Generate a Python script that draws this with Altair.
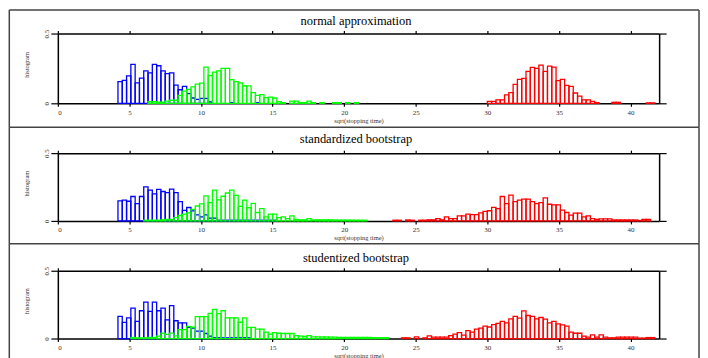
import altair as alt
import pandas as pd

BIN_W = 0.3
X_TICKS = [0, 5, 10, 15, 20, 25, 30, 35, 40]
Y_TICKS = [0, 0.5]
SERIES = ["blue", "green", "red"]
SERIES_COLORS = ["#0000ff", "#00ff00", "#ff0000"]
TITLES = ["normal approximation", "standardized bootstrap", "studentized bootstrap"]
X_TITLE = "sqrt(stopping time)"
Y_TITLE = "histogram"

# ---- panel 1 : normal approximation ----
p1_blue_start = 4.2
p1_blue = [0.155, 0.164, 0.197, 0.279, 0.147, 0.181, 0.233, 0.218, 0.279, 0.269,
           0.233, 0.212, 0.218, 0.130, 0.097, 0.122, 0.070, 0.038, 0.028, 0.035,
           0.035, 0.010, 0, 0, 0, 0, 0.005, 0, 0, 0, 0, 0, 0.005]
p1_green_start = 6.3
p1_green = [0.012, 0.012, 0.008, 0.008, 0.015, 0.022, 0.022, 0.057, 0.088, 0.100,
            0.118, 0.138, 0.145, 0.260, 0.198, 0.224, 0.232, 0.250, 0.250, 0.170,
            0.155, 0.147, 0.124, 0.125, 0.076, 0.057, 0.062, 0.040, 0.045, 0.038,
            0.012, 0.005, 0, 0.015, 0.015, 0.005, 0.005, 0.015, 0.005, 0,
            0.005, 0, 0, 0.005, 0.005, 0, 0.005, 0, 0.005, 0]
p1_red_start = 30.0
p1_red = [0.014, 0.014, 0.024, 0.024, 0.060, 0.076, 0.136, 0.171, 0.179, 0.229,
          0.257, 0.250, 0.274, 0.229, 0.267, 0.260, 0.162, 0.171, 0.129, 0.121,
          0.074, 0.052, 0.024, 0.024, 0.014, 0.005, 0, 0, 0, 0.007,
          0.007, 0, 0, 0, 0, 0, 0, 0.003, 0.003]

# ---- panel 2 : standardized bootstrap ----
p2_blue_start = 4.2
p2_blue = [0.148, 0.153, 0.145, 0.180, 0.128, 0.180, 0.251, 0.227, 0.200, 0.232,
           0.217, 0.209, 0.234, 0.209, 0.143, 0.078, 0.099, 0.074, 0.044, 0.030,
           0.044, 0.020, 0.020, 0.005, 0.005, 0.005, 0.005, 0.005, 0.005, 0.005,
           0.005, 0.005, 0.005, 0.005, 0.005, 0.005, 0.005]
p2_green_start = 6.0
p2_green = [0.005, 0.005, 0.005, 0.005, 0.008, 0.012, 0.012, 0.025, 0.040, 0.050,
            0.060, 0.085, 0.110, 0.125, 0.185, 0.135, 0.227, 0.155, 0.182, 0.206,
            0.227, 0.188, 0.108, 0.153, 0.097, 0.130, 0.062, 0.091, 0.030, 0.050,
            0.050, 0.025, 0.030, 0.017, 0.037, 0.012, 0.008, 0.008, 0.017, 0.008,
            0.008, 0.008, 0.008, 0.008, 0.006, 0.006, 0.006, 0.006, 0.006, 0.005,
            0.005, 0.005]
p2_red_start = 23.4
p2_red = [0.005, 0.005, 0, 0.007, 0.005, 0, 0.005, 0.005, 0.008, 0.008,
          0.017, 0.008, 0.030, 0.017, 0.017, 0.037, 0.037, 0.050, 0.047, 0.047,
          0.060, 0.070, 0.075, 0.100, 0.091, 0.180, 0.128, 0.190, 0.143, 0.153,
          0.160, 0.160, 0.143, 0.128, 0.135, 0.170, 0.123, 0.118, 0.118, 0.079,
          0.062, 0.042, 0.057, 0.057, 0.030, 0.037, 0.017, 0.012, 0.015, 0.015,
          0.015, 0.007, 0.007, 0.007, 0.007, 0.007, 0.007, 0.003, 0.012, 0.012]

# ---- panel 3 : studentized bootstrap ----
p3_blue_start = 4.2
p3_blue = [0.163, 0.119, 0.152, 0.224, 0.126, 0.205, 0.269, 0.200, 0.269, 0.205,
           0.224, 0.137, 0.242, 0.131, 0.116, 0.116, 0.083, 0.076, 0.055, 0.055,
           0.037, 0.017, 0.005, 0.005, 0.005, 0.005, 0.005, 0.005, 0.005, 0.005,
           0.005]
p3_green_start = 5.1
p3_green = [0.008, 0.005, 0.005, 0.005, 0.008, 0.008, 0.017, 0.040, 0.030, 0.040,
            0.020, 0.066, 0.066, 0.090, 0.083, 0.162, 0.162, 0.162, 0.186, 0.215,
            0.184, 0.205, 0.152, 0.152, 0.152, 0.120, 0.152, 0.082, 0.082, 0.069,
            0.069, 0.047, 0.032, 0.044, 0.039, 0.037, 0.037, 0.037, 0.022, 0.017,
            0.015, 0.022, 0.012, 0.012, 0.012, 0.012, 0.010, 0.010, 0.008, 0.008,
            0.008, 0.008, 0.008, 0.008, 0.008, 0.008, 0.006, 0.006, 0.006, 0.006]
p3_red_start = 24.0
p3_red = [0.005, 0.005, 0, 0.012, 0, 0.005, 0.020, 0.010, 0.010, 0.010,
          0.010, 0.022, 0.032, 0.044, 0.025, 0.059, 0.047, 0.069, 0.076, 0.092,
          0.085, 0.103, 0.111, 0.126, 0.116, 0.145, 0.163, 0.150, 0.204, 0.170,
          0.163, 0.145, 0.155, 0.143, 0.116, 0.126, 0.108, 0.100, 0.091, 0.047,
          0.039, 0.039, 0.017, 0.010, 0.027, 0.010, 0.027, 0.010, 0.005, 0.005,
          0.010, 0.010, 0.010, 0.010, 0.010, 0.003, 0.003, 0.007, 0.007]


def panel_df(blocks):
    rows = []
    for series, start, vals in blocks:
        for k, v in enumerate(vals):
            if v > 0:
                x0 = round(start + k * BIN_W, 4)
                rows.append({"series": series, "x0": x0, "x1": round(x0 + BIN_W, 4), "h": v})
    return pd.DataFrame(rows)


W = 603.3
FRAME_L = -48.7
FRAME_R = W + 40


def make_panel(df, title, h, frame_top, frame_bottom, title_y):
    xs = alt.Scale(domain=[0, 42], nice=False, zero=False)
    ys = alt.Scale(domain=[0, 0.5], nice=False, zero=True)
    bars = alt.Chart(df).mark_bar(fill="transparent", strokeWidth=1.3).encode(
        x=alt.X("x0:Q", scale=xs,
                axis=alt.Axis(orient="bottom", values=X_TICKS, title=X_TITLE, grid=False,
                              tickSize=3, labelPadding=2, titlePadding=2, format="d")),
        x2="x1:Q",
        y=alt.Y("h:Q", scale=ys,
                axis=alt.Axis(orient="left", values=Y_TICKS, title=Y_TITLE, grid=False,
                              tickSize=7, format="~g", labelAngle=270, labelAlign="center",
                              labelBaseline="bottom", labelPadding=1,
                              titleX=-31, titleY=h / 2 - 4, titleAngle=270,
                              titleAlign="center", titleBaseline="middle")),
        y2=alt.datum(0),
        stroke=alt.Stroke("series:N", scale=alt.Scale(domain=SERIES, range=SERIES_COLORS),
                          legend=None),
    )
    axes2 = alt.Chart(df).mark_bar(opacity=0).encode(
        x=alt.X("x0:Q", scale=xs,
                axis=alt.Axis(orient="top", values=X_TICKS, labels=False, title=None,
                              grid=False, tickSize=3)),
        x2="x1:Q",
        y=alt.Y("h:Q", scale=ys,
                axis=alt.Axis(orient="right", values=Y_TICKS, labels=False, title=None,
                              grid=False, tickSize=7)),
        y2=alt.datum(0),
    )
    one = pd.DataFrame({"k": [0]})
    frame_style = dict(color="#444444", strokeWidth=1.5)
    top_line = alt.Chart(one).mark_rule(**frame_style).encode(
        x=alt.value(FRAME_L), x2=alt.value(FRAME_R), y=alt.value(frame_top))
    left_line = alt.Chart(one).mark_rule(**frame_style).encode(
        x=alt.value(FRAME_L), y=alt.value(frame_top), y2=alt.value(frame_bottom))
    right_line = alt.Chart(one).mark_rule(**frame_style).encode(
        x=alt.value(FRAME_R), y=alt.value(frame_top), y2=alt.value(frame_bottom))
    title_mark = alt.Chart(one).mark_text(
        text=title, font="Liberation Serif", fontSize=12.5, color="black",
        align="center", baseline="alphabetic"
    ).encode(x=alt.value(W / 2 - 2.5), y=alt.value(title_y))
    return alt.layer(bars, axes2, top_line, left_line, right_line, title_mark).resolve_axis(
        x="independent", y="independent"
    ).properties(width=W, height=h)


df1 = panel_df([("blue", p1_blue_start, p1_blue), ("green", p1_green_start, p1_green),
                ("red", p1_red_start, p1_red)])
df2 = panel_df([("blue", p2_blue_start, p2_blue), ("green", p2_green_start, p2_green),
                ("red", p2_red_start, p2_red)])
df3 = panel_df([("blue", p3_blue_start, p3_blue), ("green", p3_green_start, p3_green),
                ("red", p3_red_start, p3_red)])

c1 = make_panel(df1, TITLES[0], 70, -23.7, 94, -8.5)
c2 = make_panel(df2, TITLES[1], 68, -26, 91, -10)
c3 = make_panel(df3, TITLES[2], 68, -27, 110, -9)

chart = alt.vconcat(c1, c2, c3, spacing=50, bounds="flush").properties(
    padding=0
).configure_view(
    strokeWidth=0
).configure_axis(
    domainColor="black", tickColor="black", domainWidth=1.5, tickWidth=1.2,
    labelFont="Liberation Serif", titleFont="Liberation Serif",
    labelFontSize=7, titleFontSize=6.5, titleFontWeight="normal",
    labelColor="#333333", titleColor="#333333",
)

chart.save("out.html", embed_options={"renderer": "svg", "actions": False})
